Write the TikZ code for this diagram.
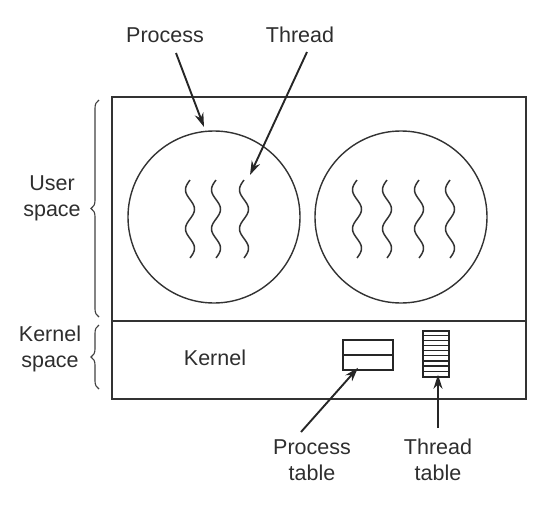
\documentclass[tikz,border=0pt]{standalone}
\usepackage{fontspec}
\setmainfont{Liberation Sans}
\usetikzlibrary{arrows.meta,decorations.pathreplacing}
\begin{document}
\begin{tikzpicture}[x=1pt,y=-1pt,
  lbl/.style={font=\fontsize{21.5}{26}\selectfont, text=black!82, align=center, inner sep=0pt},
  arr/.style={line width=1.9pt, draw=black!85, -{Stealth[length=14pt,width=9pt]}},
  frame/.style={line width=1.8pt, draw=black!80},
  circ/.style={line width=1.4pt, draw=black!80},
  wave/.style={line width=1.5pt, draw=black!80},
  brc/.style={line width=1.1pt, draw=black!75, decorate, decoration={brace, amplitude=8pt}}]
\useasboundingbox (0,0) rectangle (552,528);
% outer frame
\draw[frame] (112,97) rectangle (526,399);
\draw[frame] (112,321) -- (526,321);
% processes
\node[circle, circ, minimum size=172pt, inner sep=0pt] (p1) at (214,217) {};
\node[circle, circ, minimum size=172pt, inner sep=0pt] (p2) at (401,217) {};
% threads
\foreach \xx/\nm in {190/t1,216/t2,244/t3,357/t4,387/t5,419/t6,450/t7}{
  \draw[wave] plot[domain=0:1, samples=60, smooth] ({\xx-4.5*sin(720*\x)}, {180+78*\x});
  \coordinate (\nm) at (\xx,180);
}
% labels top
\node[lbl] (lp) at (165,35) {Process};
\node[lbl] (lt) at (300,35) {Thread};
\coordinate (ps) at (176,53);
\coordinate (ts) at (307,52);
\coordinate (pe) at (204,127);
\coordinate (te) at (250,175);
\draw[arr] (ps) -- (pe);
\draw[arr] (ts) -- (te);
% braces
\draw[brc] (99,317) -- (99,100);
\draw[brc] (99,389) -- (99,325);
\node[lbl] (us) at (52,198) {User\\space};
\node[lbl] (ks) at (50,349) {Kernel\\space};
% kernel
\node[lbl] (k) at (215,358) {Kernel};
% process table
\node[draw=black!85, line width=1.5pt, minimum width=50pt, minimum height=30pt, inner sep=0pt] (pt) at (368,355) {};
\draw[line width=1.5pt, draw=black!85] (pt.west) -- (pt.east);
% thread table
\node[draw=black!85, line width=1.5pt, minimum width=26pt, minimum height=46pt, inner sep=0pt] (tt) at (436,354) {};
\foreach \i in {1,...,8}{
  \draw[line width=1.2pt, draw=black!85] ([yshift=-\i*46/9 pt]tt.north west) -- ([yshift=-\i*46/9 pt]tt.north east);
}
% bottom labels
\node[lbl] (lpt) at (312,460) {Process\\table};
\node[lbl] (ltt) at (438,460) {Thread\\table};
\coordinate (pts) at (301,432);
\coordinate (tts) at (438,428);
\draw[arr] (pts) -- ([xshift=-10pt,yshift=3pt]pt.south);
\draw[arr] (tts) -- ([xshift=2pt,yshift=3pt]tt.south);
\end{tikzpicture}
\end{document}
